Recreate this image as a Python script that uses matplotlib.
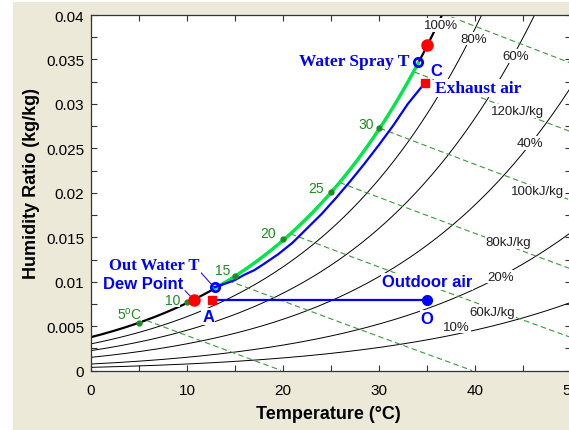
import numpy as np
import matplotlib
matplotlib.use('Agg')
import matplotlib.pyplot as plt
from matplotlib.patches import Rectangle
from matplotlib.ticker import MultipleLocator, FuncFormatter

plt.rcParams['font.family'] = ['Liberation Sans', 'DejaVu Sans']
plt.rcParams['mathtext.fontset'] = 'custom'
plt.rcParams['mathtext.rm'] = 'Liberation Sans'

# ---------------- data ----------------
P_ATM = 101.325  # kPa

rh_levels = [1.0, 0.8, 0.6, 0.4, 0.2, 0.1]
rh_labels = ['100%', '80%', '60%', '40%', '20%', '10%']
rh_label_T = [36.5, 39.9, 44.2, 45.7, 42.65, 38.1]
rh_label_W = [0.0389, 0.03735, 0.03538, 0.02563, 0.01059, 0.00496]

enthalpy_levels = [20, 40, 60, 80, 100, 120, 140]  # kJ/kg
enth_labels = ['60kJ/kg', '80kJ/kg', '100kJ/kg', '120kJ/kg']
enth_label_T = [41.8, 43.5, 46.5, 44.4]
enth_label_W = [0.00665, 0.01442, 0.02017, 0.02918]

mark_T = [5, 10, 15, 20, 25, 30]
mark_W = [0.0054, 0.0077, 0.0107, 0.0148, 0.0201, 0.0273]
mark_labels = ['5$^\\mathregular{o}$C', '10', '15', '20', '25', '30']
mark_label_T = [4.0, 8.5, 13.7, 18.4, 23.4, 28.7]
mark_label_W = [0.00642, 0.0080, 0.01127, 0.01544, 0.02056, 0.02772]

spray_T_start, spray_T_end = 12.9, 34.1   # green path along saturation

blue_T = [12.9, 14, 15, 16, 17, 18, 19.5, 21, 22.5, 24, 25.5, 27, 28.5, 30, 31.5, 33, 34.8]
blue_W = [0.0094, 0.0098, 0.0102, 0.0108, 0.0113, 0.0120, 0.0131, 0.0144, 0.0160,
          0.0176, 0.0194, 0.0213, 0.0233, 0.0254, 0.0276, 0.0300, 0.0324]

outdoor = (35.0, 0.0080)
point_A = (12.6, 0.0080)
dew_point = (10.7, 0.0080)
out_water = (12.9, 0.0094)
spray_pt = (34.1, 0.0347)
exhaust = (34.8, 0.0324)
sat35 = (35.0, 0.0366)

BLUE = '#0000FF'
GREEN_TXT = '#1E8C1E'
DASH_GREEN = '#3A9A3A'
BEIGE = '#ECE9D8'

# ---------------- psychrometric grid helpers ----------------
def p_ws(t):
    return 0.61094 * np.exp(17.625 * t / (t + 243.04))

def w_rh(t, phi):
    pv = phi * p_ws(t)
    return 0.622 * pv / (P_ATM - pv)

def w_h(t, h):
    return (h - 1.006 * t) / (2501.0 + 1.86 * t)

# ---------------- figure ----------------
fig = plt.figure(figsize=(5.69, 4.31), dpi=100)
fig.patch.set_facecolor('white')
fig.patches.append(Rectangle((13 / 569, 0), 1, 428 / 431, transform=fig.transFigure,
                             facecolor=BEIGE, edgecolor='none', zorder=-10))

ax = fig.add_axes([91 / 569, 59.3 / 431, 480 / 569, 355.7 / 431])
ax.set_facecolor('white')
ax.set_xlim(0, 50)
ax.set_ylim(0, 0.04)

tt = np.linspace(0, 50, 501)

# relative humidity lines
for phi in rh_levels:
    w = w_rh(tt, phi)
    if phi == 1.0:
        ax.plot(tt, w, color='black', lw=1.6, zorder=2)
    else:
        ax.plot(tt, w, color='black', lw=0.7, zorder=2)

# enthalpy lines
for h in enthalpy_levels:
    wsat = w_rh(tt, 1.0)
    wl = w_h(tt, h)
    ok = (wl <= wsat) & (wl >= 0)
    ax.plot(tt[ok], wl[ok], color=DASH_GREEN, lw=0.8, ls=(0, (5, 3)), zorder=2)

# green water spray path along saturation
tg = np.linspace(spray_T_start, spray_T_end, 200)
ax.plot(tg, w_rh(tg, 1.0), color='#00E848', lw=2.4, zorder=4, solid_capstyle='round')

# blue exhaust path
ax.plot(blue_T, blue_W, color=BLUE, lw=1.6, zorder=4)

# horizontal outdoor line
ax.plot([point_A[0], outdoor[0]], [point_A[1], outdoor[1]], color=BLUE, lw=1.6, zorder=4)

# markers
ax.plot(mark_T, mark_W, 'o', color=GREEN_TXT, ms=3.5, zorder=6)
ax.plot(*dew_point, 'o', color='red', ms=8, zorder=7)
ax.plot(*sat35, 'o', color='red', ms=8, zorder=7)
ax.plot(*point_A, 's', color='red', ms=6, zorder=7)
ax.plot(*exhaust, 's', color='red', ms=6, zorder=7)
ax.plot(*outdoor, 'o', color=BLUE, ms=7, zorder=7)
ax.plot(*out_water, 'o', mfc='none', mec=BLUE, mew=2, ms=6, zorder=7)
ax.plot(*spray_pt, 'o', mfc='none', mec=BLUE, mew=2, ms=6, zorder=7)

# connectors
ax.plot([11.4, 12.8], [0.0111, 0.0094], color=BLUE, lw=0.7, zorder=5)
ax.plot([9.8, 10.6], [0.0090, 0.0081], color=BLUE, lw=0.7, zorder=5)

wbox = dict(facecolor='white', edgecolor='none', pad=0.6)
sbox = dict(facecolor='white', edgecolor='none', pad=0.1)

# RH labels
for lab, x, y in zip(rh_labels, rh_label_T, rh_label_W):
    ax.text(x, y, lab, fontsize=9.5, ha='center', va='center', color='#202020',
            bbox=wbox, zorder=5)
# enthalpy labels
for lab, x, y in zip(enth_labels, enth_label_T, enth_label_W):
    ax.text(x, y, lab, fontsize=9.5, ha='center', va='center', color='#202020',
            bbox=wbox, zorder=5)
# saturation temperature markers
for lab, x, y in zip(mark_labels, mark_label_T, mark_label_W):
    ax.text(x, y, lab, fontsize=10, ha='center', va='center', color=GREEN_TXT,
            bbox=sbox, zorder=5)

serif = ['Liberation Serif', 'DejaVu Serif']
ax.text(33.2, 0.0344, 'Water Spray T', family=serif, fontsize=12.5, fontweight='bold',
        color=BLUE, ha='right', va='baseline', bbox=wbox, zorder=6)
ax.text(36.0, 0.03325, 'C', fontsize=12, fontweight='bold', color=BLUE,
        ha='center', va='baseline', bbox=wbox, zorder=6)
ax.text(35.8, 0.03132, 'Exhaust air', family=serif, fontsize=12.5, fontweight='bold',
        color=BLUE, ha='left', va='baseline', bbox=wbox, zorder=6)
ax.text(11.35, 0.01141, 'Out Water T', family=serif, fontsize=12, fontweight='bold',
        color=BLUE, ha='right', va='baseline', bbox=wbox, zorder=6)
ax.text(1.25, 0.00925, 'Dew Point', fontsize=12, fontweight='bold',
        color=BLUE, ha='left', va='baseline', bbox=sbox, zorder=6)
ax.text(12.2, 0.0056, 'A', fontsize=12, fontweight='bold', color=BLUE,
        ha='center', va='baseline', bbox=wbox, zorder=6)
ax.text(30.3, 0.0095, 'Outdoor air', fontsize=12, fontweight='bold', color=BLUE,
        ha='left', va='baseline', bbox=wbox, zorder=6)
ax.text(35.0, 0.00537, 'O', fontsize=12, fontweight='bold', color=BLUE,
        ha='center', va='baseline', bbox=wbox, zorder=6)

# axes styling
ax.xaxis.set_major_locator(MultipleLocator(10))
ax.xaxis.set_minor_locator(MultipleLocator(5))
ax.yaxis.set_major_locator(MultipleLocator(0.005))
ax.yaxis.set_minor_locator(MultipleLocator(0.0025))
ax.yaxis.set_major_formatter(FuncFormatter(lambda v, p: '%g' % round(v, 4)))
ax.tick_params(which='both', direction='in', top=True, right=True, length=4,
               width=0.8, color='#333333')
ax.tick_params(axis='y', which='major', labelsize=11, pad=5)
ax.tick_params(axis='x', which='major', labelsize=11, pad=9)
for s in ax.spines.values():
    s.set_color('#333333')
    s.set_linewidth(0.9)

ax.set_xlabel('Temperature (\u00b0C)', fontsize=13, fontweight='bold')
ax.set_ylabel('Humidity Ratio (kg/kg)', fontsize=13, fontweight='bold')
ax.xaxis.set_label_coords(0.494, -0.097)
ax.yaxis.set_label_coords(-0.106, 0.53)

fig.savefig('out.png', dpi=100)
